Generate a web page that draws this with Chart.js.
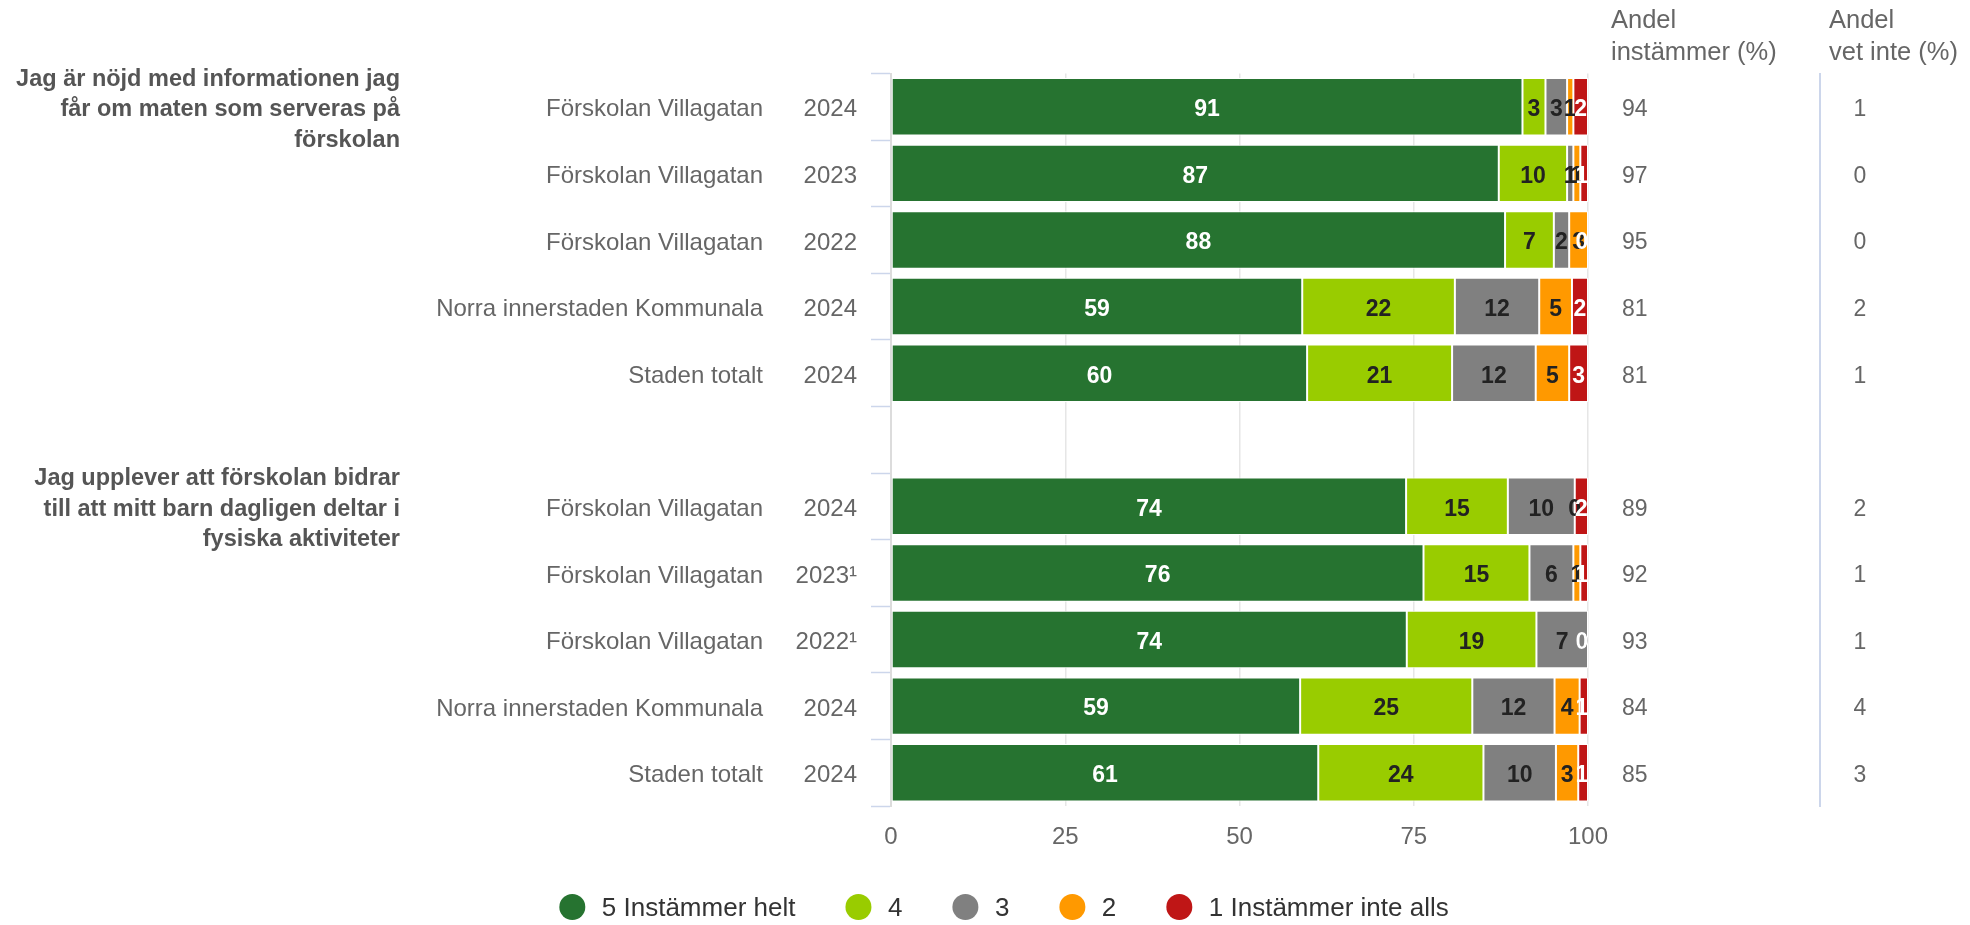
<!DOCTYPE html>
<html>
<head>
<meta charset="utf-8">
<script src="https://cdn.jsdelivr.net/npm/chart.js@4"></script>
<style>
  html, body { margin: 0; padding: 0; background: #fff; }
</style>
</head>
<body>
<canvas id="myChart" width="1970" height="925"></canvas>
<script>
// question texts (wrapped as in the original), with the row where each group starts
const questions = [
    ["Jag är nöjd med informationen jag", "får om maten som serveras på", "förskolan"],
    ["Jag upplever att förskolan bidrar", "till att mitt barn dagligen deltar i", "fysiska aktiviteter"]
];
const questionRows = [0, 6];

// one row per bar, empty row between the two questions
const units = ["Förskolan Villagatan", "Förskolan Villagatan", "Förskolan Villagatan", "Norra innerstaden Kommunala", "Staden totalt", "",
               "Förskolan Villagatan", "Förskolan Villagatan", "Förskolan Villagatan", "Norra innerstaden Kommunala", "Staden totalt"];
const years = ["2024", "2023", "2022", "2024", "2024", "", "2024", "2023¹", "2022¹", "2024", "2024"];

// right hand columns
const agree = ["94", "97", "95", "81", "81", "", "89", "92", "93", "84", "85"];
const dontKnow = ["1", "0", "0", "2", "1", "", "2", "1", "1", "4", "3"];

// answer shares (%)
const seriesNames = ["5 Instämmer helt", "4", "3", "2", "1 Instämmer inte alls"];
const s5 = [90.6, 87.2, 88.1, 59.0, 59.7, null, 73.9, 76.4, 74.0, 58.7, 61.3];
const s4 = [3.3, 9.8, 7.0, 21.9, 20.8, null, 14.6, 15.2, 18.6, 24.7, 23.7];
const s3 = [3.1, 0.9, 2.2, 12.1, 12.0, null, 9.6, 6.3, 7.4, 11.8, 10.4];
const s2 = [0.9, 1.0, 2.7, 4.7, 4.8, null, 0, 1.0, 0, 3.6, 3.2];
const s1 = [2.1, 1.1, 0, 2.3, 2.7, null, 1.9, 1.1, 0, 1.2, 1.4];

const colors = ["#267330", "#99cc00", "#808080", "#ff9900", "#bf1616"];
const labelColors = ["#ffffff", "#222222", "#222222", "#222222", "#ffffff"];

const FONT = "'Liberation Sans', Arial, sans-serif";
Chart.defaults.font.family = FONT;
Chart.defaults.color = "#666";

// numbers inside the bars
const barLabels = {
    id: "barLabels",
    afterDatasetsDraw(chart) {
        const ctx = chart.ctx;
        const area = chart.chartArea;
        ctx.save();
        ctx.font = "bold 23px " + FONT;
        ctx.textAlign = "center";
        ctx.textBaseline = "middle";
        chart.data.datasets.forEach((ds, di) => {
            const meta = chart.getDatasetMeta(di);
            meta.data.forEach((bar, i) => {
                const v = ds.data[i];
                if (v === null || v === undefined) return;
                let cx = (bar.x + bar.base) / 2;
                cx = Math.min(cx, area.right - 6);
                ctx.fillStyle = labelColors[di];
                ctx.fillText(String(Math.round(v)), cx, bar.y + 3);
            });
        });
        ctx.restore();
    }
};

// unit names, questions, column headers and legend
const extraTexts = {
    id: "extraTexts",
    afterDraw(chart) {
        const ctx = chart.ctx;
        const y = chart.scales.y;
        ctx.save();
        ctx.textBaseline = "middle";

        ctx.font = "24px " + FONT;
        ctx.fillStyle = "#666";
        ctx.textAlign = "right";
        units.forEach((u, i) => {
            if (u) ctx.fillText(u, 763, y.getPixelForValue(i) + 3);
        });

        ctx.font = "bold 23.5px " + FONT;
        ctx.fillStyle = "#555";
        questions.forEach((lines, q) => {
            const yc = y.getPixelForValue(questionRows[q]);
            lines.forEach((t, k) => ctx.fillText(t, 400, yc + (k - 1) * 30.5 + 3));
        });

        ctx.font = "25.5px " + FONT;
        ctx.fillStyle = "#666";
        ctx.textAlign = "left";
        ctx.fillText("Andel", 1611, 21);
        ctx.fillText("instämmer (%)", 1611, 53);
        ctx.fillText("Andel", 1829, 21);
        ctx.fillText("vet inte (%)", 1829, 53);

        // legend
        ctx.font = "26px " + FONT;
        const widths = chart.data.datasets.map(ds => ctx.measureText(ds.label).width);
        const gap = 50;
        const total = widths.reduce((a, w) => a + 42.5 + w, 0) + gap * (widths.length - 1);
        let x = 1004 - total / 2;
        const ly = 907;
        chart.data.datasets.forEach((ds, i) => {
            ctx.fillStyle = ds.backgroundColor;
            ctx.beginPath();
            ctx.arc(x + 13, ly, 13, 0, Math.PI * 2);
            ctx.fill();
            ctx.fillStyle = "#333";
            ctx.fillText(ds.label, x + 42.5, ly + 2);
            x += 42.5 + widths[i] + gap;
        });
        ctx.restore();
    }
};

const seriesData = [s5, s4, s3, s2, s1];

new Chart(document.getElementById("myChart").getContext("2d"), {
    type: "bar",
    data: {
        labels: years,
        datasets: seriesData.map((d, i) => ({
            label: seriesNames[i],
            data: d,
            backgroundColor: colors[i],
            borderColor: "#ffffff",
            borderWidth: 1,
            borderSkipped: false,
            barPercentage: 0.863,
            categoryPercentage: 1
        }))
    },
    options: {
        indexAxis: "y",
        responsive: false,
        animation: false,
        devicePixelRatio: 1,
        layout: { padding: { top: 73.5, left: 0, right: 0, bottom: 0 } },
        plugins: {
            legend: { display: false },
            tooltip: { enabled: false }
        },
        scales: {
            x: {
                stacked: true,
                min: 0,
                max: 100,
                ticks: { stepSize: 25, padding: 17, color: "#666", font: { size: 24 } },
                grid: { color: "#e6e6e6", lineWidth: 1.5, drawTicks: false },
                border: { display: false },
                afterFit: s => { s.height = 119; }
            },
            y: {
                stacked: true,
                offset: true,
                ticks: { autoSkip: false, padding: 14, labelOffset: 3, color: "#666", font: { size: 24 } },
                grid: { offset: true, drawOnChartArea: false, tickLength: 20, tickColor: "#ccd6eb", tickWidth: 1.5 },
                border: { display: true, color: "#dcdcdc", width: 2 },
                afterFit: s => { s.width = 891; }
            },
            y2: {
                type: "category",
                labels: agree,
                position: "right",
                offset: true,
                weight: 1,
                ticks: { autoSkip: false, padding: 34, labelOffset: 3, color: "#666", font: { size: 23 } },
                grid: { drawOnChartArea: false, drawTicks: false },
                border: { display: false },
                afterFit: s => { s.width = 232; }
            },
            y3: {
                type: "category",
                labels: dontKnow,
                position: "right",
                offset: true,
                weight: 2,
                ticks: { autoSkip: false, padding: 33.5, labelOffset: 3, color: "#666", font: { size: 23 } },
                grid: { drawOnChartArea: false, drawTicks: false },
                border: { display: true, color: "#ccd6eb", width: 2 },
                afterFit: s => { s.width = 150; }
            }
        }
    },
    plugins: [barLabels, extraTexts]
});
</script>
</body>
</html>
